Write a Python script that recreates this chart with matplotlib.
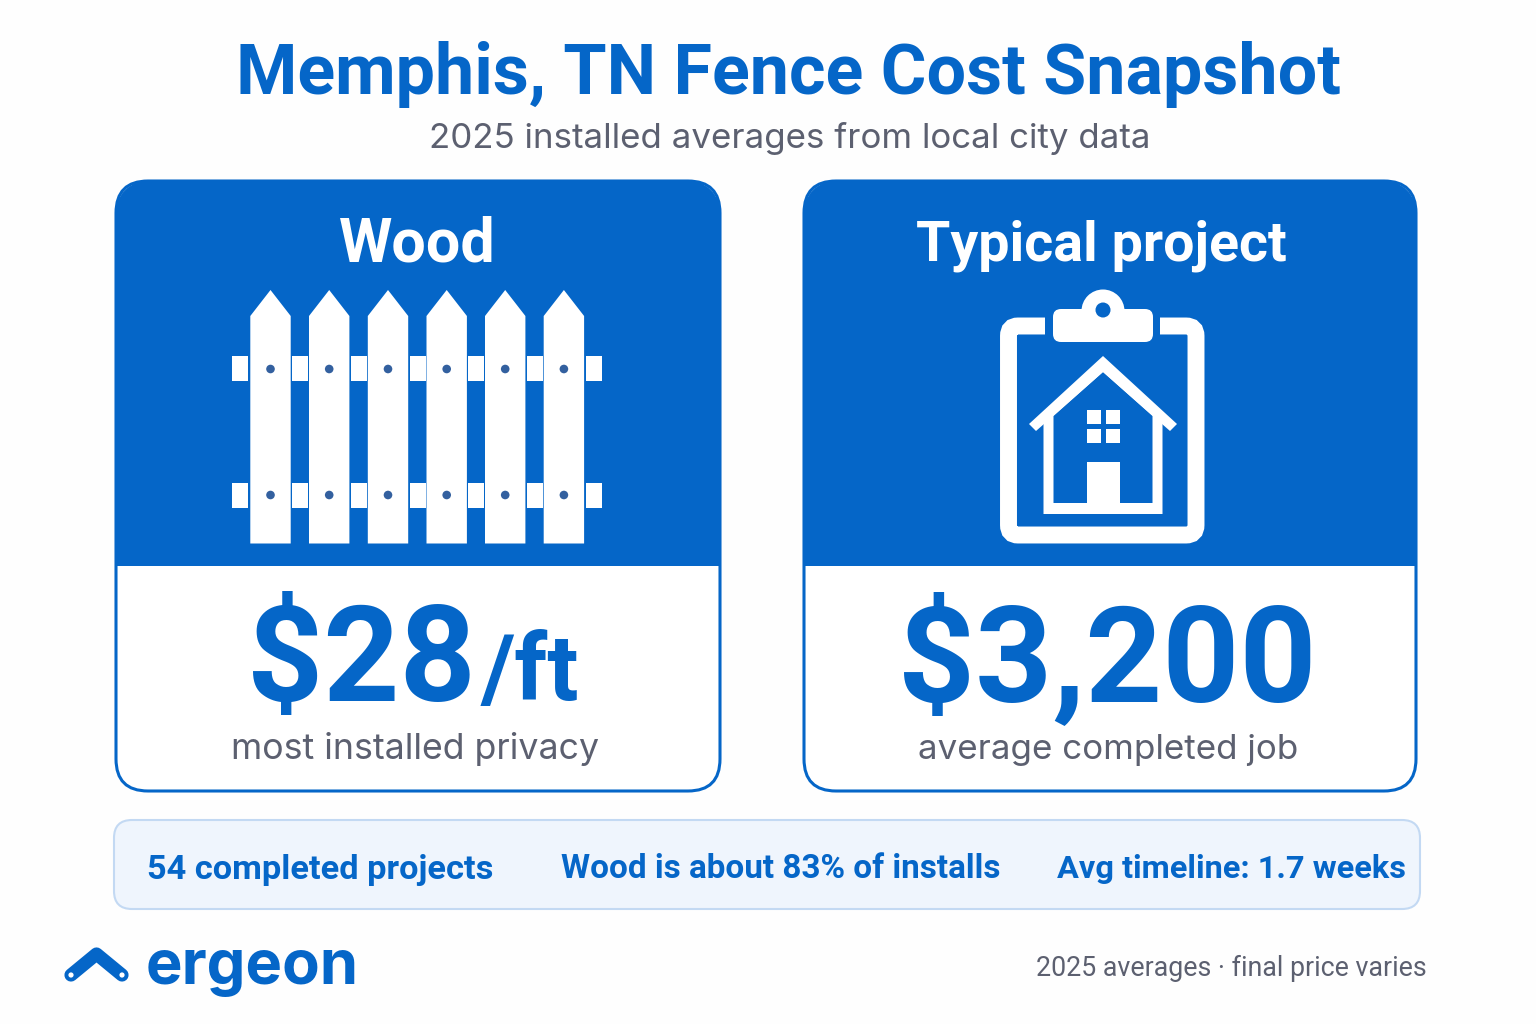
import matplotlib
matplotlib.use("Agg")
import matplotlib.pyplot as plt
from matplotlib.patches import FancyBboxPatch, Rectangle, Polygon, Circle, PathPatch
from matplotlib.path import Path

title = "Memphis, TN Fence Cost Snapshot"
subtitle = "2025 installed averages from local city data"
card_titles = ["Wood", "Typical project"]
prices = ["$28", "$3,200"]
price_unit = "/ft"
card_notes = ["most installed privacy", "average completed job"]
facts = ["54 completed projects", "Wood is about 83% of installs", "Avg timeline: 1.7 weeks"]
brand = "ergeon"
footnote = "2025 averages · final price varies"

BLUE = "#0566c8"
GREY = "#5c6070"
BG = "#fefefe"
FONT = "Roboto"
BODY = "Inter"

fig = plt.figure(figsize=(15.36, 10.24), dpi=100, facecolor=BG)
ax = fig.add_axes([0, 0, 1, 1])
ax.set_xlim(0, 1536)
ax.set_ylim(1024, 0)
ax.axis("off")


def rounded(x0, y0, x1, y1, r, **kw):
    p = FancyBboxPatch((x0 + r, y0 + r), x1 - x0 - 2 * r, y1 - y0 - 2 * r,
                       boxstyle=f"round,pad={r},rounding_size={r}", **kw)
    ax.add_patch(p)
    return p


def label(x, y, s, px, color=BLUE, weight="normal", family=FONT, ha="center"):
    return ax.text(x, y, s, fontsize=px * 0.72, color=color, fontweight=weight,
                   family=family, ha=ha, va="baseline")


label(788.5, 94, title, 70, weight="bold")
label(790, 148, subtitle, 34.9, color=GREY, family=BODY)


def card(x0, x1, y0=180, y1=791, split=566):
    rounded(x0 + 1, y0 + 1, x1 - 1, y1, 32, fc="white", ec=BLUE, lw=2.2, zorder=1)
    top = rounded(x0, y0, x1, y1, 40, fc=BLUE, ec="none", zorder=2)
    clip = Rectangle((x0 - 2, y0 - 2), x1 - x0 + 4, split - y0 + 2, transform=ax.transData)
    top.set_clip_path(clip)


card(115, 721)
card(803, 1417)

label(417, 261, card_titles[0], 61, color="white", weight="bold")
label(1101, 261, card_titles[1], 55.5, color="white", weight="bold")

# Fence icon
pickets = [250.3, 309, 367.8, 426.5, 485, 543.7]
PW = 40.4
for ry in (356, 482.7):
    for x in [232.3] + [p + PW + 1.4 for p in pickets]:
        ax.add_patch(Rectangle((x, ry), 16, 25, fc="white", ec="none", zorder=3))
for p in pickets:
    ax.add_patch(Polygon([(p, 543.5), (p, 316), (p + PW / 2, 290), (p + PW, 316), (p + PW, 543.5)],
                         closed=True, fc="white", ec="none", zorder=4))
    for cy in (369, 495):
        ax.add_patch(Circle((p + PW / 2, cy), 4.3, fc="#33609f", ec="none", zorder=5))

# Clipboard icon
W = "white"
board = Path([(1045, 326), (1018, 326), (1008.5, 326), (1008.5, 336), (1008.5, 525),
              (1008.5, 535), (1018, 535), (1186, 535), (1196, 535), (1196, 525),
              (1196, 336), (1196, 326), (1186, 326), (1160, 326)],
             [Path.MOVETO, Path.LINETO, Path.CURVE3, Path.CURVE3, Path.LINETO,
              Path.CURVE3, Path.CURVE3, Path.LINETO, Path.CURVE3, Path.CURVE3,
              Path.LINETO, Path.CURVE3, Path.CURVE3, Path.LINETO])
ax.add_patch(PathPatch(board, fc="none", ec=W, lw=12.2, capstyle="butt", joinstyle="miter", zorder=3))
rounded(1053, 309, 1153, 342, 8, fc=W, ec="none", zorder=4)
ax.add_patch(Circle((1103, 311), 21.5, fc=W, ec="none", zorder=4))
ax.add_patch(Circle((1103, 310), 7.5, fc=BLUE, ec="none", zorder=5))
# House
ax.add_patch(Polygon([(1043.5, 414), (1103, 357), (1162.5, 414), (1162.5, 514), (1043.5, 514)],
                     closed=True, fc=W, ec="none", zorder=3))
ax.add_patch(Polygon([(1053.5, 416), (1103, 372), (1152.5, 416), (1152.5, 503), (1053.5, 503)],
                     closed=True, fc=BLUE, ec="none", zorder=4))
ax.add_patch(Polygon([(1029, 424), (1103, 356), (1177, 424), (1170, 431), (1103, 372), (1036, 431)],
                     closed=True, fc=W, ec="none", zorder=5))
ax.add_patch(Rectangle((1086.5, 462), 33, 44, fc=W, ec="none", zorder=5))
for wx in (1086.5, 1106):
    for wy in (410, 428.5):
        ax.add_patch(Rectangle((wx, wy), 14, 14, fc=W, ec="none", zorder=5))

# Prices
label(361, 701, prices[0], 133, weight="bold")
label(529.5, 700, price_unit, 92, weight="bold")
label(1107, 701, prices[1], 134.5, weight="bold")
label(415.5, 759, card_notes[0], 35.7, color=GREY, family=BODY)
label(1108, 759, card_notes[1], 35, color=GREY, family=BODY)

# Facts strip
rounded(114, 820, 1420, 909, 18, fc="#eff5fd", ec="#c3d9f3", lw=1.5, zorder=1)
label(320.5, 878.5, facts[0], 34.4, weight="bold")
label(780.5, 878.5, facts[1], 33.3, weight="bold")
label(1231.5, 878.5, facts[2], 32.5, weight="bold")

# Logo
ax.plot([71, 96.5, 122], [975, 954, 975], color=BLUE, lw=9.5, solid_capstyle="round",
        solid_joinstyle="round", zorder=3)
for cx in (71, 122):
    ax.add_patch(Circle((cx, 975), 2.6, fc="white", ec="none", zorder=4))
label(146, 984, brand, 61.5, weight="bold", family=BODY, ha="left")
label(1426.5, 975.5, footnote, 26.7, color=GREY, ha="right")

fig.savefig("out.png", dpi=100, facecolor=BG)
